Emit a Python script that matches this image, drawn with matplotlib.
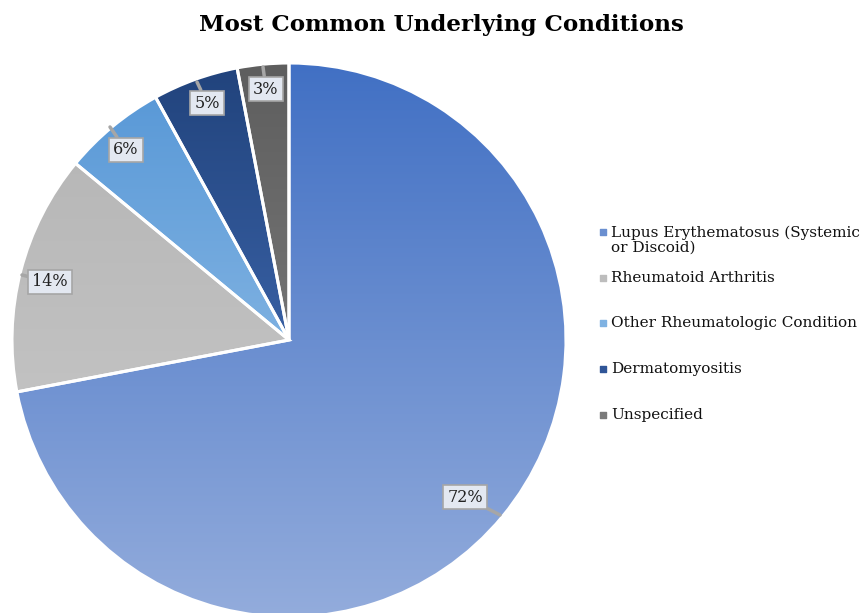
import numpy as np
import matplotlib.pyplot as plt
from matplotlib.colors import LinearSegmentedColormap

labels = ['Lupus Erythematosus (Systemic\nor Discoid)', 'Rheumatoid Arthritis',
          'Other Rheumatologic Condition', 'Dermatomyositis', 'Unspecified']
values = [72, 14, 6, 5, 3]
pct_text = ['72%', '14%', '6%', '5%', '3%']
# gradient top / bottom colours per slice
top_cols = ['#4170c4', '#b3b3b3', '#5596d6', '#21437c', '#5e5e5e']
bot_cols = ['#93acdc', '#cccccc', '#a6cbec', '#4f7cca', '#8a8a8a']
legend_cols = ['#6a8fd0', '#bdbdbd', '#7fb2e2', '#2f5597', '#7a7a7a']

plt.rcParams['font.family'] = ['DejaVu Serif']

fig = plt.figure(figsize=(8.6, 6.13), dpi=100)
ax = fig.add_axes([0, 0, 1, 1])

cx, cy, r = 289, 273, 277
wedges, _ = ax.pie(values, startangle=90, counterclock=False, center=(cx, cy),
                   radius=r, frame=True,
                   wedgeprops=dict(edgecolor='white', linewidth=2.2))
ax.set_xlim(0, 860)
ax.set_ylim(0, 613)
ax.set_aspect('equal')
ax.axis('off')

grad = np.linspace(0, 1, 256).reshape(-1, 1)
for w, c0, c1 in zip(wedges, top_cols, bot_cols):
    cmap = LinearSegmentedColormap.from_list('g', [c0, c1])
    w.set_facecolor('none')
    im = ax.imshow(grad, cmap=cmap, aspect='auto', origin='upper',
                   extent=(cx - r, cx + r, cy - r, cy + r), zorder=1)
    im.set_clip_path(w)
    w.set_zorder(2)

# percentage callouts: (text x, text y, pointer x, pointer y)
callouts = [(465, 116, 500, 98), (50, 331, 22, 338), (126, 463, 110, 486),
            (207, 510, 197, 531), (266, 524, 263, 546)]
for t, (tx, ty, px, py) in zip(pct_text, callouts):
    ax.annotate(t, xy=(px, py), xytext=(tx, ty), ha='center', va='center',
                fontsize=11.5, color='#222222', zorder=5,
                bbox=dict(boxstyle='square,pad=0.25', fc='#e3e8f1', ec='#a6a6a6', lw=1.2),
                arrowprops=dict(arrowstyle='-', color='#a6a6a6', lw=2.5,
                                shrinkA=0, shrinkB=0))

ax.text(441, 588, 'Most Common Underlying Conditions', ha='center', va='center',
        fontsize=16.6, fontweight='bold', color='black')

leg_y = [381, 335, 290, 244, 198]
for lab, col, y in zip(labels, legend_cols, leg_y):
    ax.scatter([603], [y], marker='s', s=20, color=col, zorder=5)
    ty = y - 8.5 if '\n' in lab else y
    ax.text(611, ty, lab, ha='left', va='center',
            fontsize=11, color='#111111', linespacing=1.05)

fig.savefig('out.png', dpi=100)
